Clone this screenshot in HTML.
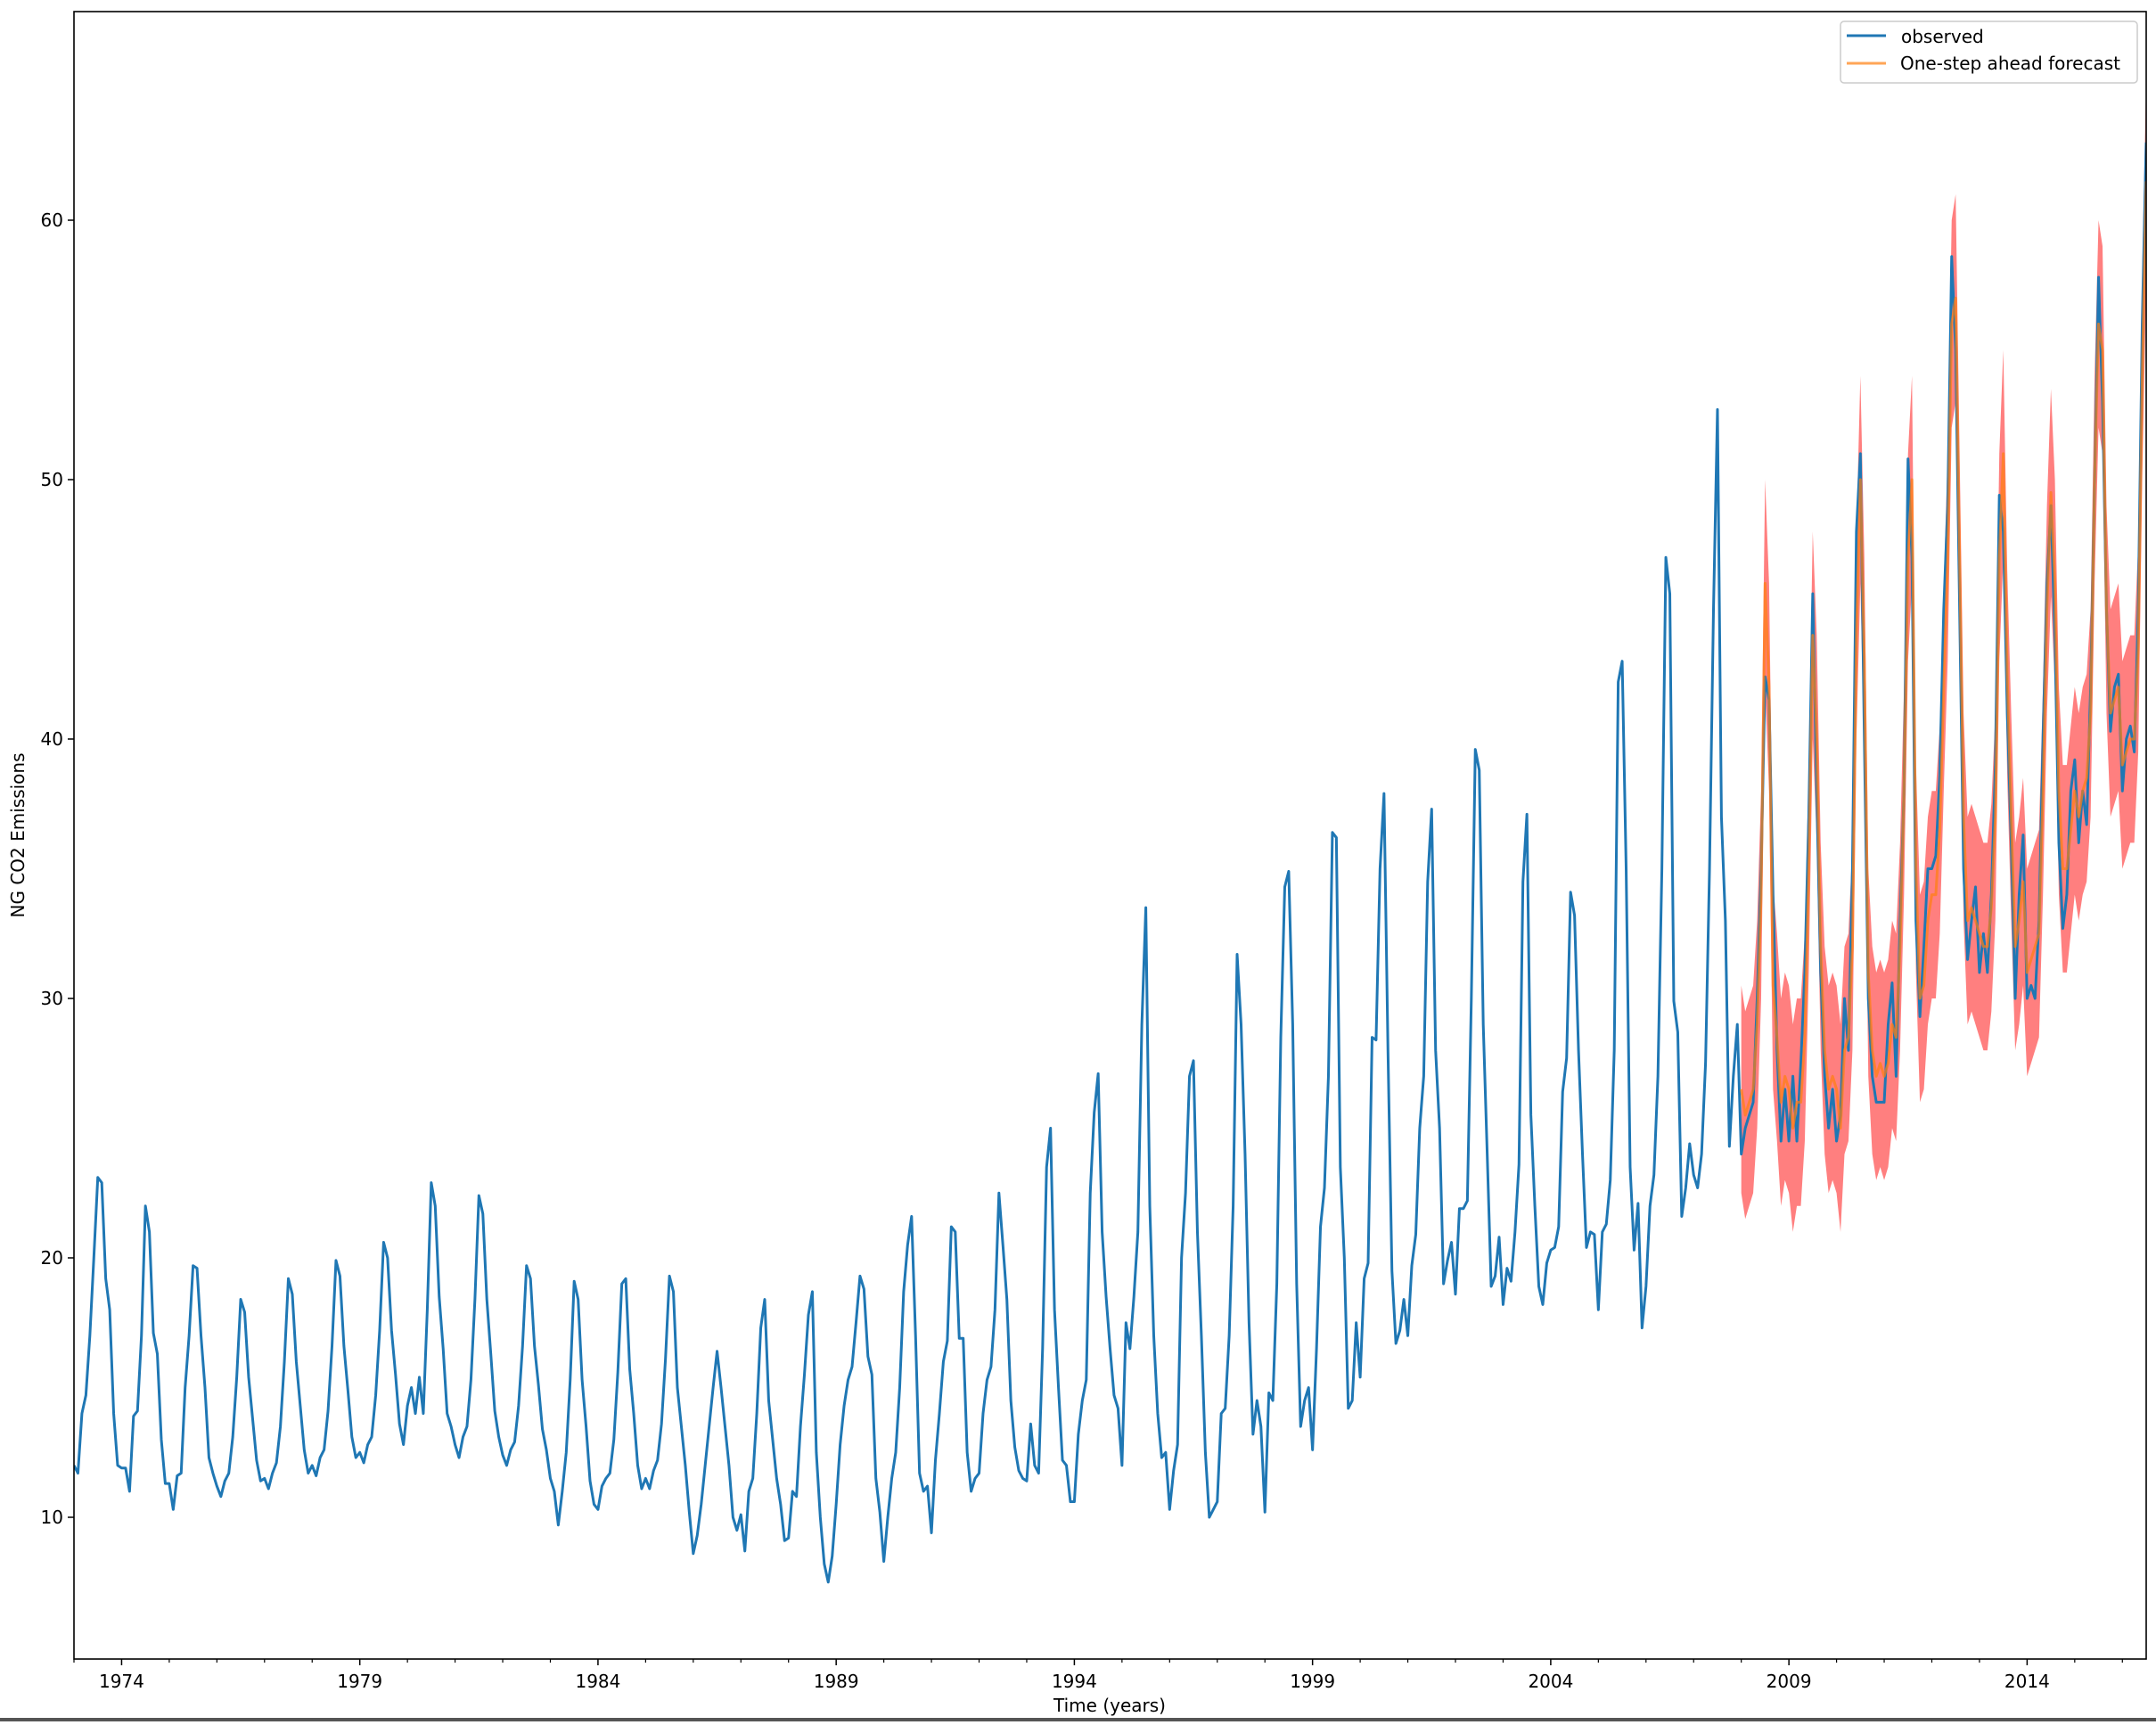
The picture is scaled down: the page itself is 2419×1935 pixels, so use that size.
<!DOCTYPE html>
<html><head><meta charset="utf-8">
<style>
html,body{margin:0;padding:0;background:#fff;}
body{width:2419px;height:1931px;overflow:hidden;position:relative;font-family:"DejaVu Sans","Liberation Sans",sans-serif;}
svg text{font-family:"DejaVu Sans","Liberation Sans",sans-serif;fill:#000;}
</style></head>
<body>
<svg id="chart" width="2419" height="1931" viewBox="0 0 2419 1931" xmlns="http://www.w3.org/2000/svg">
<rect x="0" y="0" width="2419" height="1931" fill="#fff"/>
<g id="plot"></g>
<rect x="83" y="13" width="2325" height="1848" fill="none" stroke="#000" stroke-width="1.6"/>
<g id="xaxis"></g>
<g id="yaxis"></g>
<text x="1245" y="1920" font-size="20" text-anchor="middle">Time (years)</text>
<text x="0" y="0" font-size="20" text-anchor="middle" transform="translate(27,937) rotate(-90)">NG CO2 Emissions</text>
<g>
<rect x="2065" y="24" width="333" height="69" rx="4" fill="#fff" fill-opacity="0.8" stroke="#ccc" stroke-width="1.5"/>
<line x1="2072" y1="40" x2="2116" y2="40" stroke="#1f77b4" stroke-width="3"/>
<text x="2133" y="48" font-size="20">observed</text>
<line x1="2072" y1="71" x2="2116" y2="71" stroke="#ff7f0e" stroke-opacity="0.7" stroke-width="3"/>
<text x="2132" y="78" font-size="20">One-step ahead forecast</text>
</g>
<rect x="0" y="1927" width="2419" height="4" fill="#555"/>
</svg>
<script>
const startYear = 1973;
const observed = [
12.0,11.7,14.0,14.7,17.0,20.0,23.1,22.9,19.2,18.0,14.0,12.0,
11.9,11.9,11.0,13.9,14.1,17.0,22.0,21.0,17.1,16.3,13.0,11.3,
11.3,10.3,11.6,11.7,15.0,17.0,19.7,19.6,17.0,15.0,12.3,11.7,
11.2,10.8,11.4,11.7,13.1,15.4,18.4,17.9,15.4,13.8,12.2,11.4,
11.5,11.1,11.7,12.1,13.5,16.0,19.2,18.6,16.0,14.3,12.6,11.7,
12.0,11.6,12.3,12.6,14.1,16.6,19.9,19.3,16.6,14.9,13.1,12.3,
12.5,12.1,12.8,13.1,14.7,17.2,20.6,20.0,17.2,15.5,13.6,12.8,
14.3,15.0,14.0,15.4,14.0,18.0,22.9,22.0,18.5,16.5,14.0,13.5,
12.8,12.3,13.1,13.5,15.3,18.4,22.4,21.7,18.4,16.3,14.1,13.1,
12.4,12.0,12.6,12.9,14.3,16.6,19.7,19.2,16.6,15.1,13.4,12.6,
11.5,11.0,9.7,11.0,12.5,15.3,19.1,18.4,15.3,13.5,11.4,10.5,
10.3,11.2,11.5,11.7,13.0,15.6,19.0,19.2,15.7,14.0,12.0,11.1,
11.5,11.1,11.8,12.2,13.6,16.1,19.3,18.7,15.0,13.5,12.0,10.2,
8.6,9.3,10.5,12.0,13.5,15.0,16.4,15.0,13.5,12.0,10.0,9.5,
10.1,8.7,11.0,11.5,14.0,17.3,18.4,14.5,13.0,11.5,10.5,9.1,
9.2,11.0,10.8,13.5,15.5,17.8,18.7,12.5,10.0,8.2,7.5,8.5,
10.5,12.8,14.3,15.3,15.8,17.5,19.3,18.8,16.2,15.5,11.5,10.2,
8.3,10.0,11.5,12.5,15.0,18.7,20.5,21.6,17.0,11.7,11.0,11.2,
9.4,12.2,14.0,16.0,16.8,21.2,21.0,16.9,16.9,12.5,11.0,11.5,
11.7,14.0,15.3,15.8,18.0,22.5,20.5,18.4,14.5,12.7,11.8,11.5,
11.4,13.6,12.0,11.7,16.5,23.5,25.0,18.0,15.0,12.2,12.0,10.6,
10.6,13.2,14.5,15.3,22.5,25.6,27.1,21.0,18.5,16.5,14.7,14.2,
12.0,17.5,16.5,18.5,21.0,29.0,33.5,22.0,17.0,14.0,12.3,12.5,
10.3,11.8,12.8,20.0,22.5,27.0,27.6,21.0,17.0,12.5,10.0,10.3,
10.6,14.0,14.2,17.0,22.0,31.7,29.0,24.0,17.5,13.2,14.5,13.5,
10.2,14.8,14.5,19.0,28.5,34.3,34.9,29.0,19.0,13.5,14.5,15.0,
12.6,16.5,21.2,22.7,27.0,36.4,36.2,23.5,20.0,14.2,14.5,17.5,
15.4,19.2,19.8,28.5,28.4,35.0,37.9,28.0,19.5,16.7,17.2,18.4,
17.0,19.7,20.9,25.0,27.0,34.5,37.3,28.0,25.0,19.0,19.9,20.6,
18.6,21.9,21.9,22.2,30.0,39.6,38.8,29.0,24.0,18.9,19.3,20.8,
18.2,19.6,19.1,21.0,23.6,34.5,37.1,25.5,22.0,18.9,18.2,19.8,
20.3,20.4,21.2,26.4,27.7,34.1,33.2,28.0,24.0,20.4,21.0,20.9,
18.0,21.0,21.3,23.0,28.0,42.2,43.0,35.0,23.5,20.3,22.1,17.3,
18.9,22.0,23.2,27.0,35.0,47.0,45.6,29.9,28.7,21.6,22.7,24.4,
23.2,22.7,24.0,27.5,35.0,45.0,52.7,37.0,33.0,24.3,27.0,29.0,
24.0,25.0,25.5,26.0,30.0,35.0,42.4,41.5,34.0,28.0,24.5,26.5,
24.5,27.0,24.5,27.5,31.0,37.0,45.6,38.0,31.0,27.0,25.0,26.5,
24.5,25.5,30.0,28.0,35.0,48.0,51.0,40.0,30.0,27.0,26.0,26.0,
26.0,29.0,30.6,27.0,33.0,38.0,50.8,47.0,33.0,29.3,32.0,35.0,
35.0,35.5,38.6,45.0,49.0,58.6,55.0,45.0,35.0,31.5,33.0,34.3,
31.0,32.5,31.0,34.0,39.0,49.4,48.0,41.0,36.0,30.0,34.0,36.3,
30.0,30.5,30.0,33.0,40.0,46.0,49.0,44.0,36.0,32.7,34.0,38.0,
39.2,36.0,38.0,36.7,42.0,50.0,57.8,53.0,45.0,40.3,42.0,42.5,
38.0,40.0,40.5,39.5,45.0,56.0,63.0
];
const forecastStartIndex = 420;
const forecast = [
26.5,25.5,26.0,26.5,29.0,34.0,46.0,42.0,30.5,28.5,26.0,27.0,
26.5,25.0,26.0,26.0,28.5,35.0,44.0,40.0,32.0,28.0,26.5,27.0,
26.5,25.0,28.0,28.5,32.0,44.0,50.0,43.0,31.0,28.0,27.0,27.5,
27.0,27.5,29.0,28.5,32.0,38.0,47.0,50.0,35.0,30.0,30.5,33.0,
34.0,34.0,36.5,42.0,47.0,56.0,57.0,47.0,37.0,33.0,33.5,33.0,
32.5,32.0,32.0,33.5,37.0,47.0,51.0,42.5,37.0,32.0,33.0,34.5,
31.0,31.5,32.0,32.5,38.0,45.0,49.5,46.0,38.0,35.0,35.0,36.5,
38.0,37.0,38.0,38.5,41.0,50.0,56.0,55.0,45.0,41.0,41.5,42.0,
39.0,39.5,40.0,40.0,43.5,54.0,61.5
];
const ciHalfWidth = 4.0;
const yTickValues = [10,20,30,40,50,60];
const xMajorTickYears = [1974,1979,1984,1989,1994,1999,2004,2009,2014];
const xMinorTickYears = [1973,1975,1976,1977,1978,1980,1981,1982,1983,1985,1986,1987,1988,1990,1991,1992,1993,1995,1996,1997,1998,2000,2001,2002,2003,2005,2006,2007,2008,2010,2011,2012,2013,2015,2016];

const NS = "http://www.w3.org/2000/svg";
const X0 = 83, X1 = 2408, Y0 = 13, Y1 = 1861;
const tMin = startYear, tMax = startYear + (observed.length - 1) / 12;
function xScale(t){ return X0 + (t - tMin) / (tMax - tMin) * (X1 - X0); }
function yScale(v){ return 1702 - (v - 10) * 29.1; }
function tOf(i){ return startYear + i / 12; }
function mk(tag, attrs, parent){
  const el = document.createElementNS(NS, tag);
  for (const k in attrs) el.setAttribute(k, attrs[k]);
  parent.appendChild(el);
  return el;
}
const plot = document.getElementById('plot');
const clip = mk('clipPath', {id:'clipr'}, plot);
mk('rect', {x:X0, y:Y0, width:X1-X0, height:Y1-Y0}, clip);
const g = mk('g', {'clip-path':'url(#clipr)'}, plot);

// confidence band (drawn first, under lines)
let up = '', lo = '';
forecast.forEach((v,i)=>{
  const x = xScale(tOf(forecastStartIndex + i)).toFixed(2);
  up += (i?'L':'M') + x + ',' + yScale(v + ciHalfWidth).toFixed(2);
});
for (let i = forecast.length - 1; i >= 0; i--) {
  const x = xScale(tOf(forecastStartIndex + i)).toFixed(2);
  lo += 'L' + x + ',' + yScale(forecast[i] - ciHalfWidth).toFixed(2);
}
const band = mk('path', {d: up + lo + 'Z', fill:'#ff0000', 'fill-opacity':0.5, stroke:'none'}, g);



// observed line
let d = '';
observed.forEach((v,i)=>{ d += (i?'L':'M') + xScale(tOf(i)).toFixed(2) + ',' + yScale(v).toFixed(2); });
const obsPath = mk('path', {d:d, fill:'none', stroke:'#1f77b4', 'stroke-width':3, 'stroke-linejoin':'round'}, g);



// forecast line
let fd = '';
forecast.forEach((v,i)=>{ fd += (i?'L':'M') + xScale(tOf(forecastStartIndex+i)).toFixed(2) + ',' + yScale(v).toFixed(2); });
const fPath = mk('path', {d:fd, fill:'none', stroke:'#ff7f0e', 'stroke-opacity':0.7, 'stroke-width':3, 'stroke-linejoin':'round'}, g);



// y axis
const ya = document.getElementById('yaxis');
yTickValues.forEach(v=>{
  const y = yScale(v);
  const t = mk('line', {x1:X0-7, x2:X0, y1:y, y2:y, stroke:'#000', 'stroke-width':1.5}, ya);
  
  
  const lb = mk('text', {x:X0-12, y:y+7, 'font-size':20, 'text-anchor':'end'}, ya);
  lb.textContent = v;
  
  
});
// x axis
const xa = document.getElementById('xaxis');
xMinorTickYears.forEach(yr=>{
  const x = xScale(yr);
  const t = mk('line', {x1:x, x2:x, y1:Y1, y2:Y1+4, stroke:'#000', 'stroke-width':1.2}, xa);
  
  
});
xMajorTickYears.forEach(yr=>{
  const x = xScale(yr);
  const t = mk('line', {x1:x, x2:x, y1:Y1, y2:Y1+7, stroke:'#000', 'stroke-width':1.5}, xa);
  
  
  const lb = mk('text', {x:x, y:Y1+32, 'font-size':20, 'text-anchor':'middle'}, xa);
  lb.textContent = yr;
  
  
});
</script>
</body></html>
